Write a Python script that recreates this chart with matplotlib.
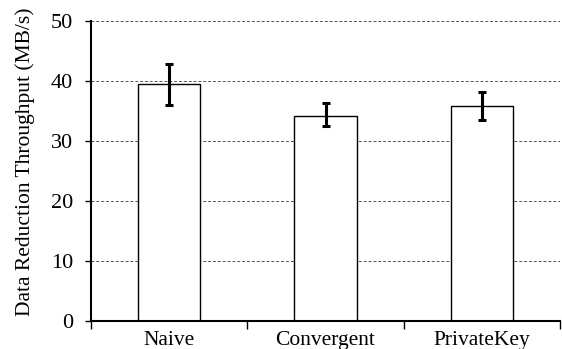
import matplotlib
matplotlib.use("Agg")
import matplotlib.pyplot as plt
from matplotlib.ticker import FixedLocator

categories = ["Naive", "Convergent", "PrivateKey"]
values = [39.5, 34.2, 35.9]
err_low = [36.0, 32.5, 33.5]
err_high = [42.9, 36.4, 38.2]

plt.rcParams['font.family'] = ['Liberation Serif', 'DejaVu Serif']

fig = plt.figure(figsize=(5.62, 3.49), dpi=100)
ax = fig.add_axes([91/562, 28/349, 469/562, 300/349])

x = list(range(len(categories)))
yerr = [[v - l for v, l in zip(values, err_low)], [h - v for v, h in zip(values, err_high)]]
ax.bar(x, values, width=0.40, color='white', edgecolor='black', linewidth=1.0, zorder=2)
ax.errorbar(x, values, yerr=yerr, fmt='none', ecolor='black', elinewidth=2.2,
            capsize=2.6, capthick=2.2, zorder=3)

ax.set_xlim(-0.5, len(categories) - 0.5)
ax.set_ylim(0, 50)
ax.set_yticks([0, 10, 20, 30, 40, 50])
ax.set_xticks(x)
ax.set_xticklabels(categories, fontsize=15.5)
ax.xaxis.set_minor_locator(FixedLocator([-0.5, 0.5, 1.5, 2.5]))
ax.tick_params(axis='x', which='major', length=0, pad=7)
ax.tick_params(axis='x', which='minor', length=6, width=1, direction='out')
ax.tick_params(axis='y', which='major', length=4, width=1, direction='out', labelsize=16, pad=9)
ax.yaxis.grid(True, linestyle=(0, (3, 2)), color='#555555', linewidth=0.7, zorder=0)
ax.set_axisbelow(True)
for s in ['top', 'right']:
    ax.spines[s].set_visible(False)
ax.spines['left'].set_linewidth(1.5)
ax.spines['bottom'].set_linewidth(1.5)
ax.set_ylabel("Data Reduction Throughput (MB/s)", fontsize=15.5)
ax.yaxis.set_label_coords(-0.119, 0.532)

fig.savefig("out.png", dpi=100)
